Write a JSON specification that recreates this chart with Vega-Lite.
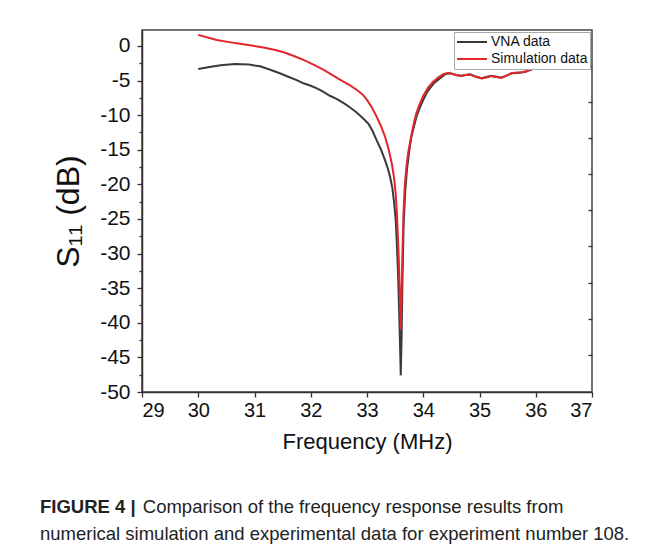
{
  "$schema": "https://vega.github.io/schema/vega-lite/v6.json",
  "autosize": {"type": "none"},
  "width": 450,
  "height": 362,
  "padding": {"left": 142, "top": 30, "right": 58, "bottom": 159},
  "background": "white",
  "config": {
    "view": {"stroke": "#444", "strokeWidth": 1.5},
    "font": "Liberation Sans"
  },
  "title": {
    "text": "FIGURE 4 |",
    "subtitle": ["\u200b\u00a0\u00a0\u00a0\u00a0\u00a0\u00a0\u00a0\u00a0\u00a0\u00a0\u00a0\u00a0\u00a0\u00a0\u00a0\u00a0\u00a0\u00a0\u00a0\u00a0Comparison of the frequency response results from", "numerical simulation and experimental data for experiment number 108."],
    "orient": "bottom",
    "anchor": "start",
    "frame": "group",
    "dx": -102,
    "offset": 46,
    "fontSize": 18.5,
    "fontWeight": "bold",
    "font": "Liberation Sans",
    "color": "#222",
    "subtitleFontSize": 18.5,
    "subtitleFont": "Liberation Sans",
    "subtitleColor": "#222",
    "subtitleLineHeight": 27,
    "subtitlePadding": -19
  },
  "data": {
    "values": [
      {"f": 30.0, "db": -3.35, "s": "VNA data"},
      {"f": 30.2, "db": -3.05, "s": "VNA data"},
      {"f": 30.4, "db": -2.78, "s": "VNA data"},
      {"f": 30.65, "db": -2.62, "s": "VNA data"},
      {"f": 30.9, "db": -2.7, "s": "VNA data"},
      {"f": 31.1, "db": -2.95, "s": "VNA data"},
      {"f": 31.28, "db": -3.45, "s": "VNA data"},
      {"f": 31.45, "db": -3.95, "s": "VNA data"},
      {"f": 31.6, "db": -4.45, "s": "VNA data"},
      {"f": 31.75, "db": -4.95, "s": "VNA data"},
      {"f": 31.87, "db": -5.4, "s": "VNA data"},
      {"f": 32.0, "db": -5.75, "s": "VNA data"},
      {"f": 32.1, "db": -6.1, "s": "VNA data"},
      {"f": 32.22, "db": -6.6, "s": "VNA data"},
      {"f": 32.34, "db": -7.2, "s": "VNA data"},
      {"f": 32.45, "db": -7.6, "s": "VNA data"},
      {"f": 32.52, "db": -7.95, "s": "VNA data"},
      {"f": 32.62, "db": -8.45, "s": "VNA data"},
      {"f": 32.7, "db": -8.9, "s": "VNA data"},
      {"f": 32.8, "db": -9.5, "s": "VNA data"},
      {"f": 32.88, "db": -10.1, "s": "VNA data"},
      {"f": 32.96, "db": -10.7, "s": "VNA data"},
      {"f": 33.03, "db": -11.3, "s": "VNA data"},
      {"f": 33.1, "db": -12.3, "s": "VNA data"},
      {"f": 33.17, "db": -13.6, "s": "VNA data"},
      {"f": 33.25, "db": -15.0, "s": "VNA data"},
      {"f": 33.32, "db": -16.5, "s": "VNA data"},
      {"f": 33.37, "db": -17.7, "s": "VNA data"},
      {"f": 33.41, "db": -18.9, "s": "VNA data"},
      {"f": 33.45, "db": -20.5, "s": "VNA data"},
      {"f": 33.48, "db": -22.5, "s": "VNA data"},
      {"f": 33.51, "db": -25.1, "s": "VNA data"},
      {"f": 33.53, "db": -28.5, "s": "VNA data"},
      {"f": 33.55, "db": -32.4, "s": "VNA data"},
      {"f": 33.57, "db": -38.0, "s": "VNA data"},
      {"f": 33.59, "db": -44.0, "s": "VNA data"},
      {"f": 33.6, "db": -47.6, "s": "VNA data"},
      {"f": 33.615, "db": -42.0, "s": "VNA data"},
      {"f": 33.63, "db": -34.0, "s": "VNA data"},
      {"f": 33.65, "db": -26.0, "s": "VNA data"},
      {"f": 33.68, "db": -21.0, "s": "VNA data"},
      {"f": 33.71, "db": -17.9, "s": "VNA data"},
      {"f": 33.75, "db": -15.2, "s": "VNA data"},
      {"f": 33.79, "db": -13.1, "s": "VNA data"},
      {"f": 33.84, "db": -11.5, "s": "VNA data"},
      {"f": 33.88, "db": -10.2, "s": "VNA data"},
      {"f": 33.94, "db": -8.9, "s": "VNA data"},
      {"f": 34.0, "db": -7.8, "s": "VNA data"},
      {"f": 34.06, "db": -6.8, "s": "VNA data"},
      {"f": 34.12, "db": -6.1, "s": "VNA data"},
      {"f": 34.2, "db": -5.3, "s": "VNA data"},
      {"f": 34.3, "db": -4.65, "s": "VNA data"},
      {"f": 34.38, "db": -4.15, "s": "VNA data"},
      {"f": 34.44, "db": -3.95, "s": "VNA data"},
      {"f": 34.5, "db": -4.0, "s": "VNA data"},
      {"f": 34.58, "db": -4.2, "s": "VNA data"},
      {"f": 34.68, "db": -4.3, "s": "VNA data"},
      {"f": 34.75, "db": -4.2, "s": "VNA data"},
      {"f": 34.83, "db": -4.1, "s": "VNA data"},
      {"f": 34.93, "db": -4.4, "s": "VNA data"},
      {"f": 35.04, "db": -4.65, "s": "VNA data"},
      {"f": 35.12, "db": -4.5, "s": "VNA data"},
      {"f": 35.21, "db": -4.33, "s": "VNA data"},
      {"f": 35.3, "db": -4.45, "s": "VNA data"},
      {"f": 35.39, "db": -4.58, "s": "VNA data"},
      {"f": 35.48, "db": -4.3, "s": "VNA data"},
      {"f": 35.57, "db": -3.95, "s": "VNA data"},
      {"f": 35.66, "db": -3.9, "s": "VNA data"},
      {"f": 35.75, "db": -3.85, "s": "VNA data"},
      {"f": 35.83, "db": -3.7, "s": "VNA data"},
      {"f": 35.9, "db": -3.47, "s": "VNA data"},
      {"f": 35.99, "db": -3.2, "s": "VNA data"},
      {"f": 30.0, "db": 1.6, "s": "Simulation data"},
      {"f": 30.15, "db": 1.25, "s": "Simulation data"},
      {"f": 30.33, "db": 0.87, "s": "Simulation data"},
      {"f": 30.55, "db": 0.55, "s": "Simulation data"},
      {"f": 30.74, "db": 0.3, "s": "Simulation data"},
      {"f": 30.95, "db": 0.05, "s": "Simulation data"},
      {"f": 31.16, "db": -0.24, "s": "Simulation data"},
      {"f": 31.35, "db": -0.55, "s": "Simulation data"},
      {"f": 31.52, "db": -0.92, "s": "Simulation data"},
      {"f": 31.7, "db": -1.45, "s": "Simulation data"},
      {"f": 31.87, "db": -2.02, "s": "Simulation data"},
      {"f": 32.05, "db": -2.7, "s": "Simulation data"},
      {"f": 32.23, "db": -3.47, "s": "Simulation data"},
      {"f": 32.4, "db": -4.3, "s": "Simulation data"},
      {"f": 32.58, "db": -5.15, "s": "Simulation data"},
      {"f": 32.7, "db": -5.7, "s": "Simulation data"},
      {"f": 32.82, "db": -6.36, "s": "Simulation data"},
      {"f": 32.92, "db": -7.0, "s": "Simulation data"},
      {"f": 33.0, "db": -7.8, "s": "Simulation data"},
      {"f": 33.08, "db": -8.8, "s": "Simulation data"},
      {"f": 33.17, "db": -10.2, "s": "Simulation data"},
      {"f": 33.25, "db": -11.6, "s": "Simulation data"},
      {"f": 33.32, "db": -13.1, "s": "Simulation data"},
      {"f": 33.38, "db": -14.8, "s": "Simulation data"},
      {"f": 33.44, "db": -16.95, "s": "Simulation data"},
      {"f": 33.48, "db": -19.0, "s": "Simulation data"},
      {"f": 33.51, "db": -21.3, "s": "Simulation data"},
      {"f": 33.53, "db": -24.0, "s": "Simulation data"},
      {"f": 33.55, "db": -27.6, "s": "Simulation data"},
      {"f": 33.57, "db": -32.0, "s": "Simulation data"},
      {"f": 33.59, "db": -38.0, "s": "Simulation data"},
      {"f": 33.6, "db": -41.0, "s": "Simulation data"},
      {"f": 33.615, "db": -36.0, "s": "Simulation data"},
      {"f": 33.63, "db": -30.0, "s": "Simulation data"},
      {"f": 33.65, "db": -24.0, "s": "Simulation data"},
      {"f": 33.67, "db": -20.3, "s": "Simulation data"},
      {"f": 33.7, "db": -17.5, "s": "Simulation data"},
      {"f": 33.73, "db": -15.5, "s": "Simulation data"},
      {"f": 33.78, "db": -13.3, "s": "Simulation data"},
      {"f": 33.82, "db": -11.66, "s": "Simulation data"},
      {"f": 33.87, "db": -9.9, "s": "Simulation data"},
      {"f": 33.93, "db": -8.5, "s": "Simulation data"},
      {"f": 34.0, "db": -7.2, "s": "Simulation data"},
      {"f": 34.08, "db": -6.1, "s": "Simulation data"},
      {"f": 34.17, "db": -5.2, "s": "Simulation data"},
      {"f": 34.27, "db": -4.55, "s": "Simulation data"},
      {"f": 34.36, "db": -4.05, "s": "Simulation data"},
      {"f": 34.44, "db": -3.9, "s": "Simulation data"},
      {"f": 34.5, "db": -4.0, "s": "Simulation data"},
      {"f": 34.58, "db": -4.2, "s": "Simulation data"},
      {"f": 34.68, "db": -4.35, "s": "Simulation data"},
      {"f": 34.75, "db": -4.2, "s": "Simulation data"},
      {"f": 34.83, "db": -4.15, "s": "Simulation data"},
      {"f": 34.93, "db": -4.45, "s": "Simulation data"},
      {"f": 35.04, "db": -4.7, "s": "Simulation data"},
      {"f": 35.12, "db": -4.55, "s": "Simulation data"},
      {"f": 35.21, "db": -4.35, "s": "Simulation data"},
      {"f": 35.3, "db": -4.5, "s": "Simulation data"},
      {"f": 35.39, "db": -4.6, "s": "Simulation data"},
      {"f": 35.48, "db": -4.3, "s": "Simulation data"},
      {"f": 35.57, "db": -3.95, "s": "Simulation data"},
      {"f": 35.66, "db": -3.85, "s": "Simulation data"},
      {"f": 35.75, "db": -3.8, "s": "Simulation data"},
      {"f": 35.83, "db": -3.65, "s": "Simulation data"},
      {"f": 35.9, "db": -3.45, "s": "Simulation data"},
      {"f": 35.97, "db": -3.2, "s": "Simulation data"}
    ]
  },
  "layer": [
    {
      "mark": {"type": "line", "strokeWidth": 2, "clip": true},
      "encoding": {
        "x": {
          "field": "f", "type": "quantitative",
          "scale": {"domain": [29, 37], "nice": false, "zero": false},
          "axis": {
            "title": "Frequency (MHz)",
            "values": [29, 29.5, 30, 30.5, 31, 31.5, 32, 32.5, 33, 33.5, 34, 34.5, 35, 35.5, 36, 36.5, 37],
            "labelExpr": "datum.value % 1 == 0 ? format(datum.value, 'd') : ''",
            "grid": false,
            "domainColor": "#333", "domainWidth": 1.5,
            "tickColor": "#333", "tickWidth": 1.3,
            "tickSize": {"condition": {"test": "datum.value % 1 != 0", "value": 3}, "value": 5},
            "labelFontSize": 20, "labelColor": "#111", "labelPadding": 3, "labelFont": "Liberation Sans",
            "titleFontSize": 22, "titleFontWeight": "normal", "titleColor": "#111", "titlePadding": 11, "titleFont": "Liberation Sans"
          }
        },
        "y": {
          "field": "db", "type": "quantitative",
          "scale": {"domain": [-50, 2.3], "nice": false, "zero": false},
          "axis": {
            "title": "S₁₁ (dB)",
            "values": [-50, -47.5, -45, -42.5, -40, -37.5, -35, -32.5, -30, -27.5, -25, -22.5, -20, -17.5, -15, -12.5, -10, -7.5, -5, -2.5, 0],
            "labelExpr": "datum.value % 5 == 0 ? replace(format(datum.value, 'd'), '−', '-') : ''",
            "grid": false,
            "domainColor": "#333", "domainWidth": 1.5,
            "tickColor": "#333", "tickWidth": 1.3,
            "tickSize": {"condition": {"test": "datum.value % 5 != 0", "value": 3}, "value": 5},
            "labelFontSize": 21, "labelColor": "#111", "labelPadding": 7, "labelFont": "Liberation Sans",
            "titleFontSize": 32, "titleFontWeight": "normal", "titleColor": "#111", "titlePadding": 14, "titleFont": "Liberation Sans"
          }
        },
        "color": {
          "field": "s", "type": "nominal",
          "scale": {"domain": ["VNA data", "Simulation data"], "range": ["#3a3a3a", "#e3262d"]},
          "legend": {
            "title": null,
            "orient": "none", "legendX": 312, "legendY": 2,
            "symbolType": "stroke", "symbolSize": 900, "symbolStrokeWidth": 2,
            "clipHeight": 16,
            "labelFontSize": 14, "labelColor": "#111", "labelFont": "Liberation Sans", "labelOffset": 3,
            "rowPadding": 1, "padding": 2,
            "strokeColor": "#aaa", "fillColor": "white"
          }
        }
      }
    },
    {
      "mark": {"type": "point", "opacity": 0},
      "encoding": {
        "x": {"field": "f", "type": "quantitative"},
        "y": {
          "field": "db", "type": "quantitative",
          "axis": {
            "orient": "right", "title": null, "labels": false, "domain": false, "grid": false,
            "values": [-2.85, -8.05, -13.3, -18.5, -23.7, -28.9, -34.2, -39.4, -44.65],
            "tickSize": -4, "tickColor": "#333", "tickWidth": 1.3
          }
        }
      }
    }
  ],
  "resolve": {"axis": {"y": "independent"}}
}
